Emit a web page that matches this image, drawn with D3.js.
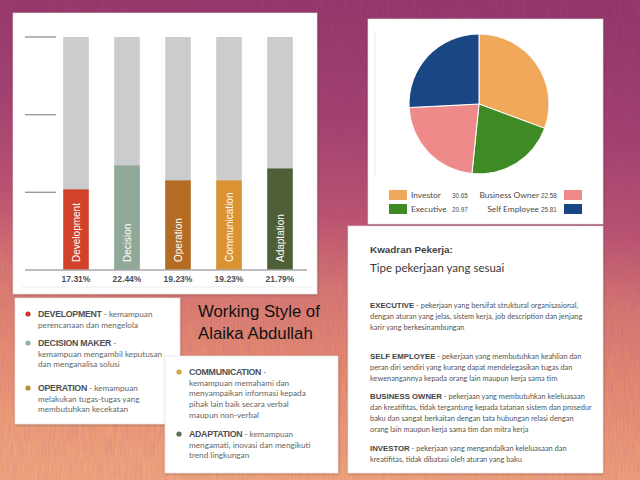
<!DOCTYPE html>
<html>
<head>
<meta charset="utf-8">
<script src="https://cdn.jsdelivr.net/npm/d3@7"></script>
<style>
html,body{margin:0;padding:0;background:#c06070;}
svg{display:block;}
</style>
</head>
<body>
<svg id="chart" width="640" height="480"></svg>
<script>
// ---------- DATA ----------
const barCategories = ["Development", "Decision", "Operation", "Communication", "Adaptation"];
const barValues = [17.31, 22.44, 19.23, 19.23, 21.79];
const barColors = ["#d2412a", "#8fa898", "#b46c24", "#db9232", "#4e5f38"];
const barTicks = [0, 16.67, 33.33, 50];

const pieCategories = ["Investor", "Executive", "Business Owner", "Self Employee"];
const pieValues = [30.65, 20.97, 22.58, 25.81];
const pieColors = ["#f0a95a", "#3e8a24", "#ef8a8a", "#1a4784"];

const styleTitle = ["Working Style of", "Alaika Abdullah"];

const styleItems1 = [
  {key: "DEVELOPMENT", color: "#d0392b", lines: [" - kemampuan", "perencanaan dan mengelola"]},
  {key: "DECISION MAKER", color: "#8fb3b3", lines: [" -", "kemampuan mengambil keputusan", "dan menganalisa solusi"]},
  {key: "OPERATION", color: "#b98c3c", lines: [" - kemampuan", "melakukan tugas-tugas yang", "membutuhkan kecekatan"]}
];
const styleItems2 = [
  {key: "COMMUNICATION", color: "#d4a446", lines: [" -", "kemampuan memahami dan", "menyampaikan informasi kepada", "pihak lain baik secara verbal", "maupun non-verbal"]},
  {key: "ADAPTATION", color: "#5c6b58", lines: [" - kemampuan", "mengamati, inovasi dan mengikuti", "trend lingkungan"]}
];

const kwadranTitle = "Kwadran Pekerja:";
const kwadranSubtitle = "Tipe pekerjaan yang sesuai";
const kwadranItems = [
  {key: "EXECUTIVE", lines: [" - pekerjaan yang bersifat struktural organisasional,", "dengan aturan yang jelas, sistem kerja, job description dan jenjang", "karir yang berkesinambungan"]},
  {key: "SELF EMPLOYEE", lines: [" - pekerjaan yang membutuhkan keahlian dan", "peran diri sendiri yang kurang dapat mendelegasikan tugas dan", "kewenangannya kepada orang lain maupun kerja sama tim"]},
  {key: "BUSINESS OWNER", lines: [" - pekerjaan yang membutuhkan keleluasaan", "dan kreatifitas, tidak tergantung kepada tatanan sistem dan prosedur", "baku dan sangat berkaitan dengan tata hubungan relasi dengan", "orang lain maupun kerja sama tim dan mitra kerja"]},
  {key: "INVESTOR", lines: [" - pekerjaan yang mengandalkan keleluasaan dan", "kreatifitas, tidak dibatasi oleh aturan yang baku"]}
];

// ---------- DRAW ----------
const svg = d3.select("#chart");
const defs = svg.append("defs");

const bg = defs.append("linearGradient").attr("id", "bg")
  .attr("x1", "0.55").attr("y1", "0").attr("x2", "0.45").attr("y2", "1");
[["0%", "#93356a"], ["25%", "#a2406f"], ["45%", "#bb5370"], ["60%", "#d67670"], ["78%", "#e68c72"], ["100%", "#efa47c"]]
  .forEach(([o, c]) => bg.append("stop").attr("offset", o).attr("stop-color", c));

const noise = defs.append("filter").attr("id", "noise").attr("x", 0).attr("y", 0).attr("width", "100%").attr("height", "100%");
noise.append("feTurbulence").attr("type", "fractalNoise").attr("baseFrequency", "0.9 0.05").attr("numOctaves", 2).attr("seed", 3).attr("result", "t");
noise.append("feColorMatrix").attr("in", "t").attr("type", "matrix")
  .attr("values", "0 0 0 0 0.35  0 0 0 0 0.1  0 0 0 0 0.25  0 0 0 -1.2 0.75");

const shadow = defs.append("filter").attr("id", "shadow").attr("x", "-5%").attr("y", "-5%").attr("width", "110%").attr("height", "110%");
shadow.append("feDropShadow").attr("dx", 0.5).attr("dy", 1).attr("stdDeviation", 1.2).attr("flood-color", "#000").attr("flood-opacity", 0.25);

svg.append("rect").attr("width", 640).attr("height", 480).attr("fill", "url(#bg)");
svg.append("rect").attr("width", 640).attr("height", 480).attr("filter", "url(#noise)").attr("opacity", 0.35);

function card(x, y, w, h) {
  svg.append("rect").attr("x", x).attr("y", y).attr("width", w).attr("height", h)
    .attr("fill", "#fff").attr("stroke", "#e2e2e2").attr("stroke-width", 0.6).attr("filter", "url(#shadow)");
}

// ---- Bar chart card ----
card(13, 13, 304, 281);
const x = d3.scaleBand().domain(barCategories).range([50.5, 305.5]).paddingInner(0.5).paddingOuter(0.25);
const y = d3.scaleLinear().domain([0, 50]).range([270, 37]);

const bars = svg.append("g");
bars.selectAll("line.tick").data(barTicks.slice(1)).join("line")
  .attr("x1", 25).attr("x2", 56).attr("y1", d => y(d)).attr("y2", d => y(d))
  .attr("stroke", "#9a9a9a").attr("stroke-width", 1.4);
bars.selectAll("rect.bgbar").data(barCategories).join("rect")
  .attr("x", d => x(d)).attr("width", x.bandwidth())
  .attr("y", y(50)).attr("height", y(0) - y(50)).attr("fill", "#cbcccd");
bars.selectAll("rect.val").data(barValues).join("rect")
  .attr("x", (d, i) => x(barCategories[i])).attr("width", x.bandwidth())
  .attr("y", d => y(d)).attr("height", d => y(0) - y(d)).attr("fill", (d, i) => barColors[i]);
bars.append("line").attr("x1", 25).attr("x2", 307).attr("y1", y(0)).attr("y2", y(0))
  .attr("stroke", "#a8a8a8").attr("stroke-width", 1.4);
bars.selectAll("text.cat").data(barCategories).join("text")
  .attr("transform", d => `translate(${x(d) + x.bandwidth() / 2 + 3.5},${y(0) - 8}) rotate(-90)`)
  .attr("font-family", "Liberation Sans, Arial, sans-serif").attr("font-size", 10)
  .attr("fill", "#fff").text(d => d);
bars.selectAll("text.pct").data(barValues).join("text")
  .attr("x", (d, i) => x(barCategories[i]) + x.bandwidth() / 2).attr("y", 282)
  .attr("text-anchor", "middle").attr("font-family", "Liberation Sans, Arial, sans-serif")
  .attr("font-size", 8.5).attr("font-weight", "bold").attr("fill", "#505050")
  .text(d => d.toFixed(2) + "%");
bars.append("line").attr("x1", 22).attr("x2", 312).attr("y1", 287).attr("y2", 287).attr("stroke", "#ececec");

// ---- Pie chart card ----
card(368, 19, 235, 205);
const pie = d3.pie().sort(null).value(d => d);
const arc = d3.arc().innerRadius(0).outerRadius(70);
svg.append("g").attr("transform", "translate(479,104)")
  .selectAll("path").data(pie(pieValues)).join("path")
  .attr("d", arc).attr("fill", (d, i) => pieColors[i]).attr("stroke", "#fff").attr("stroke-width", 1);
svg.append("line").attr("x1", 375).attr("x2", 375).attr("y1", 32).attr("y2", 176).attr("stroke", "#e6e6e6").attr("stroke-width", 0.8);

const legend = svg.append("g");
const legendPos = [
  {sx: 389, tx: 411, vx: 452, y: 190, anchor: "start"},
  {sx: 389, tx: 411, vx: 452, y: 204, anchor: "start"},
  {sx: 564, tx: 539, vx: 541, y: 190, anchor: "end"},
  {sx: 564, tx: 539, vx: 541, y: 204, anchor: "end"}
];
[0, 1, 2, 3].forEach((i) => {
  const p = legendPos[i];
  legend.append("rect").attr("x", p.sx).attr("y", p.y).attr("width", 18).attr("height", 10).attr("fill", pieColors[i]);
  legend.append("text").attr("x", p.tx).attr("y", p.y + 8).attr("text-anchor", p.anchor)
    .attr("font-family", "Lato, sans-serif").attr("font-size", 8.4).attr("fill", "#4a4a4a").text(pieCategories[i]);
  legend.append("text").attr("x", p.vx).attr("y", p.y + 7.5)
    .attr("font-family", "Liberation Sans Narrow, Liberation Sans, sans-serif").attr("font-size", 6.3).attr("fill", "#4a4a4a")
    .text(pieValues[i].toFixed(2));
});

// ---- Kwadran card ----
card(348, 226, 255, 247);
const kw = svg.append("g");
kw.append("text").attr("x", 370).attr("y", 253).attr("font-family", "Liberation Sans, Arial, sans-serif")
  .attr("font-size", 9.9).attr("font-weight", "bold").attr("fill", "#444").text(kwadranTitle);
kw.append("text").attr("x", 370).attr("y", 272).attr("font-family", "Lato, sans-serif")
  .attr("font-size", 11.5).attr("fill", "#3a3a3a").text(kwadranSubtitle);
const kwStarts = [308, 359, 399, 451];
kwadranItems.forEach((item, k) => {
  const y0 = kwStarts[k];
  const t = kw.append("text").attr("x", 370).attr("y", y0).attr("font-family", "Lato, sans-serif").attr("font-size", 7.4).attr("fill", "#555");
  t.append("tspan").attr("font-family", "Liberation Sans, Arial, sans-serif").attr("font-weight", "bold").attr("font-size", 7.8).attr("fill", "#444").text(item.key);
  t.append("tspan").text(item.lines[0]);
  item.lines.slice(1).forEach((ln, j) => {
    kw.append("text").attr("x", 370).attr("y", y0 + 11 * (j + 1)).attr("font-family", "Lato, sans-serif")
      .attr("font-size", 7.4).attr("fill", "#555").text(ln);
  });
});

// ---- Working style legend cards ----
function styleCard(items, dotX, textX, starts) {
  const g = svg.append("g");
  items.forEach((item, k) => {
    const y0 = starts[k];
    g.append("circle").attr("cx", dotX).attr("cy", y0 - 3).attr("r", 2.6).attr("fill", item.color);
    const t = g.append("text").attr("x", textX).attr("y", y0).attr("font-family", "Lato, sans-serif").attr("font-size", 8.2).attr("fill", "#666");
    t.append("tspan").attr("font-family", "Liberation Sans, Arial, sans-serif").attr("font-weight", "bold")
      .attr("font-size", 8.8).attr("fill", "#505050").attr("letter-spacing", -0.3).text(item.key);
    t.append("tspan").text(item.lines[0]);
    item.lines.slice(1).forEach((ln, j) => {
      g.append("text").attr("x", textX).attr("y", y0 + 10.5 + 10.8 * j).attr("font-family", "Lato, sans-serif")
        .attr("font-size", 8.2).attr("fill", "#666").text(ln);
    });
  });
}
card(15, 298, 165, 126);
styleCard(styleItems1, 28, 38, [317, 346, 391]);
card(165, 356, 173, 117);
styleCard(styleItems2, 179, 189, [375, 437]);

// ---- Title ----
const title = svg.append("g");
styleTitle.forEach((ln, i) => {
  title.append("text").attr("x", 198).attr("y", 317 + 22 * i)
    .attr("font-family", "Liberation Sans, Arial, sans-serif").attr("font-size", 16.8).attr("fill", "#111").text(ln);
});
</script>
</body>
</html>
